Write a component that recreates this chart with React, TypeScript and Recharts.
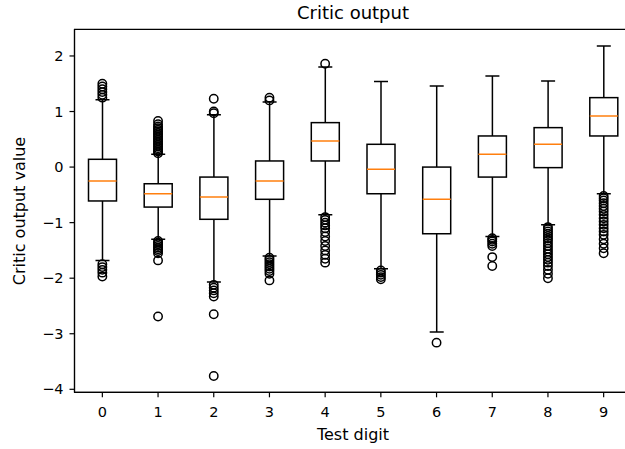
import React from 'react'
import { ComposedChart, Bar, Scatter, XAxis, YAxis, ReferenceArea } from 'recharts'

// box statistics per test digit
const digits = ['0', '1', '2', '3', '4', '5', '6', '7', '8', '9']
const whiskerLow = [-1.68, -1.3, -2.07, -1.6, -0.86, -1.83, -2.97, -1.25, -1.04, -0.48]
const q1 = [-0.61, -0.72, -0.94, -0.58, 0.11, -0.48, -1.2, -0.18, -0.01, 0.56]
const median = [-0.25, -0.48, -0.54, -0.25, 0.47, -0.04, -0.58, 0.23, 0.41, 0.92]
const q3 = [0.14, -0.3, -0.18, 0.11, 0.8, 0.41, 0.0, 0.56, 0.71, 1.25]
const whiskerHigh = [1.21, 0.23, 0.94, 1.17, 1.8, 1.54, 1.46, 1.64, 1.55, 2.18]
const outliers: number[][] = [
  [1.25, 1.3, 1.35, 1.4, 1.45, 1.5, -1.75, -1.8, -1.85, -1.9, -1.97],
  [0.25, 0.28, 0.31, 0.34, 0.37, 0.4, 0.43, 0.46, 0.49, 0.52, 0.55, 0.58, 0.61, 0.64, 0.67, 0.7, 0.73, 0.77, 0.83,
    -1.33, -1.36, -1.39, -1.42, -1.45, -1.48, -1.51, -1.55, -1.68, -2.69],
  [0.97, 1.0, 1.23, -2.12, -2.17, -2.22, -2.27, -2.33, -2.65, -3.76],
  [1.2, 1.25, -1.63, -1.67, -1.71, -1.75, -1.79, -1.83, -1.87, -1.92, -2.04],
  [1.86, -0.9, -0.95, -1.0, -1.05, -1.1, -1.17, -1.25, -1.33, -1.42, -1.5, -1.58, -1.65, -1.72],
  [-1.86, -1.9, -1.94, -1.98, -2.02],
  [-3.16],
  [-1.28, -1.31, -1.34, -1.38, -1.42, -1.62, -1.78],
  [-1.08, -1.12, -1.16, -1.2, -1.24, -1.28, -1.32, -1.37, -1.42, -1.47, -1.52, -1.57, -1.62, -1.67, -1.72, -1.78,
    -1.85, -1.92, -2.0],
  [-0.52, -0.56, -0.6, -0.65, -0.7, -0.75, -0.8, -0.86, -0.92, -0.98, -1.04, -1.1, -1.16, -1.22, -1.3, -1.38,
    -1.46, -1.55],
]
const yTicks = [-4, -3, -2, -1, 0, 1, 2]
const yDomain: [number, number] = [-4.054, 2.48]

const FONT = '"DejaVu Sans", sans-serif'
const MEDIAN = '#ff7f0e'

const boxData = digits.map((d, i) => ({
  digit: d,
  range: [whiskerLow[i], whiskerHigh[i]],
  lo: whiskerLow[i], q1: q1[i], med: median[i], q3: q3[i], hi: whiskerHigh[i],
}))
const fliers = outliers.flatMap((vals, i) => vals.map(v => ({ d: i, v })))

const fmt = (v: number) => (v < 0 ? `\u2212${Math.abs(v)}` : `${v}`)

function BoxShape(props: any) {
  const { x, y, width, height, payload } = props
  const top = Math.min(y, y + height)
  const bottom = Math.max(y, y + height)
  const yOf = (v: number) => top + ((bottom - top) * (payload.hi - v)) / (payload.hi - payload.lo)
  const cx = x + width / 2
  const cap = width / 4
  const sw = 1.5
  return (
    <g>
      <line x1={cx} x2={cx} y1={yOf(payload.q3)} y2={yOf(payload.hi)} stroke="#000" strokeWidth={sw} />
      <line x1={cx} x2={cx} y1={yOf(payload.q1)} y2={yOf(payload.lo)} stroke="#000" strokeWidth={sw} />
      <line x1={cx - cap} x2={cx + cap} y1={yOf(payload.hi)} y2={yOf(payload.hi)} stroke="#000" strokeWidth={sw} />
      <line x1={cx - cap} x2={cx + cap} y1={yOf(payload.lo)} y2={yOf(payload.lo)} stroke="#000" strokeWidth={sw} />
      <rect x={x} y={yOf(payload.q3)} width={width} height={yOf(payload.q1) - yOf(payload.q3)}
        fill="#fff" stroke="#000" strokeWidth={sw} />
      <line x1={x} x2={x + width} y1={yOf(payload.med)} y2={yOf(payload.med)} stroke={MEDIAN} strokeWidth={sw} />
    </g>
  )
}

const Flier = (props: any) => (
  <circle cx={props.cx} cy={props.cy} r={4.2} fill="none" stroke="#000" strokeWidth={1.5} />
)

export default function App() {
  const tick = { fill: '#000', fontSize: 14.5, fontFamily: FONT }
  return (
    <div style={{ position: 'absolute', left: 0, top: 0, width: 625, height: 449, overflow: 'hidden', background: '#fff' }}>
      <ComposedChart width={640} height={449} data={boxData}
        margin={{ top: 29.3, right: 8.5, bottom: 0, left: 0 }}>
        <XAxis dataKey="digit" type="category" height={56.7} tick={tick} tickSize={5} tickMargin={9}
          axisLine={{ stroke: '#000', strokeWidth: 1.2 }} tickLine={{ stroke: '#000', strokeWidth: 1.2 }} />
        <XAxis xAxisId="num" dataKey="d" type="number" domain={[-0.5, 9.5]} hide />
        <YAxis type="number" domain={yDomain} ticks={yTicks} allowDataOverflow width={74.5}
          tick={tick} tickSize={5} tickMargin={6} tickFormatter={fmt}
          axisLine={{ stroke: '#000', strokeWidth: 1.2 }} tickLine={{ stroke: '#000', strokeWidth: 1.2 }} />
        <ReferenceArea xAxisId="num" x1={-0.5} x2={9.5} y1={yDomain[0]} y2={yDomain[1]}
          fill="none" stroke="#000" strokeWidth={1.2} fillOpacity={0} ifOverflow="visible" />
        <Bar dataKey="range" barSize={28} shape={BoxShape} isAnimationActive={false} />
        <Scatter xAxisId="num" data={fliers} dataKey="v" shape={Flier} isAnimationActive={false} />
      </ComposedChart>
      <svg width={625} height={449} style={{ position: 'absolute', left: 0, top: 0, pointerEvents: 'none' }}>
        <text x={353} y={18.5} textAnchor="middle" fontFamily={FONT} fontSize={18} fill="#000">Critic output</text>
        <text x={353} y={440} textAnchor="middle" fontFamily={FONT} fontSize={16} fill="#000">Test digit</text>
        <text x={25} y={211} textAnchor="middle" fontFamily={FONT} fontSize={16} fill="#000"
          transform="rotate(-90 25 211)">Critic output value</text>
      </svg>
    </div>
  )
}
